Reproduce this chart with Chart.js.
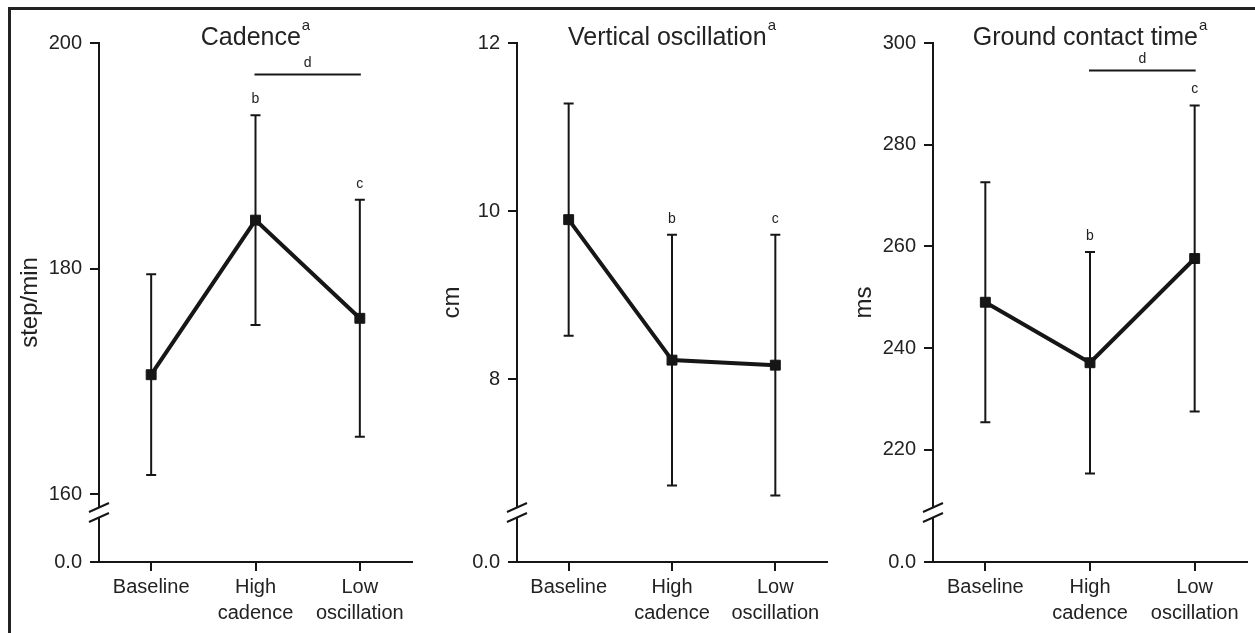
<!DOCTYPE html>
<html><head><meta charset="utf-8">
<script src="https://cdn.jsdelivr.net/npm/chart.js@4.4.1/dist/chart.umd.min.js"></script>
<style>
html,body{margin:0;padding:0;background:#fff;}
body{width:1255px;height:633px;position:relative;overflow:hidden;}
#frame{position:absolute;left:8px;top:7px;width:1260px;height:640px;border-top:3px solid #222;border-left:3px solid #222;}
.panel{position:absolute;top:0;height:633px;}
</style></head><body>
<div id="frame"></div>
<div class="panel" style="left:10px;width:410px"><canvas id="c1"></canvas></div>
<div class="panel" style="left:420px;width:415px"><canvas id="c2"></canvas></div>
<div class="panel" style="left:835px;width:420px"><canvas id="c3"></canvas></div>
<script>
// ---- data ----
const categories = [['Baseline'], ['High', 'cadence'], ['Low', 'oscillation']];

const cadenceMean = [170.6, 184.3, 175.6];
const cadenceSD   = [8.9, 9.3, 10.5];
const cadenceTicks = [160, 180, 200];
const cadenceAxisMin = 154.0; // position of the "0.0" label after the break

const voMean = [9.90, 8.23, 8.17];
const voSD   = [1.38, 1.49, 1.55];
const voTicks = [8, 10, 12];
const voAxisMin = 5.83;

const gctMean = [249.0, 237.1, 257.6];
const gctSD   = [23.6, 21.8, 30.1];
const gctTicks = [220, 240, 260, 280, 300];
const gctAxisMin = 197.9;

const titles = ['Cadence', 'Vertical oscillation', 'Ground contact time'];
const unitLabels = ['step/min', 'cm', 'ms'];
const letterIdx = { b: 1, c: 2 };
const cadenceDLine = 197.2;
const gctDLine = 294.6;

Chart.defaults.font.family = "'Liberation Sans', Arial, sans-serif";
Chart.defaults.color = '#222';

const INK = '#161616';

function extrasPlugin(mean, sd, dLine) {
  return {
    id: 'extras',
    beforeDatasetsDraw(chart) {
      const ctx = chart.ctx, xs = chart.scales.x, ys = chart.scales.y;
      ctx.save();
      ctx.strokeStyle = INK; ctx.lineWidth = 2;
      mean.forEach((m, i) => {
        const x = xs.getPixelForValue(i);
        const yt = ys.getPixelForValue(m + sd[i]);
        const yb = ys.getPixelForValue(m - sd[i]);
        ctx.beginPath();
        ctx.moveTo(x, yt); ctx.lineTo(x, yb);
        ctx.moveTo(x - 5, yt); ctx.lineTo(x + 5, yt);
        ctx.moveTo(x - 5, yb); ctx.lineTo(x + 5, yb);
        ctx.stroke();
      });
      ctx.restore();
    },
    afterDraw(chart, args, opts) {
      const ctx = chart.ctx, xs = chart.scales.x, ys = chart.scales.y;
      const ca = chart.chartArea;
      ctx.save();
      // axis break
      const x0 = ca.left, yb = ca.bottom - 54.5;
      ctx.fillStyle = '#fff';
      ctx.fillRect(x0 - 3, yb, 6, 10);
      ctx.strokeStyle = INK; ctx.lineWidth = 2;
      ctx.beginPath();
      ctx.moveTo(x0 - 10, yb + 4.5); ctx.lineTo(x0 + 10, yb - 4.5);
      ctx.moveTo(x0 - 10, yb + 14.5); ctx.lineTo(x0 + 10, yb + 5.5);
      ctx.stroke();
      // significance letters
      ctx.fillStyle = '#222';
      ctx.font = "14px 'Liberation Sans', Arial, sans-serif";
      ctx.textAlign = 'center'; ctx.textBaseline = 'middle';
      Object.keys(letterIdx).forEach(k => {
        const i = letterIdx[k];
        const x = xs.getPixelForValue(i);
        const yt = ys.getPixelForValue(mean[i] + sd[i]);
        ctx.fillText(k, x, yt - 16);
      });
      if (dLine !== null) {
        const y = ys.getPixelForValue(dLine);
        const xa = xs.getPixelForValue(1) - 1, xb = xs.getPixelForValue(2) + 1;
        ctx.beginPath(); ctx.moveTo(xa, y); ctx.lineTo(xb, y); ctx.stroke();
        ctx.fillText('d', (xa + xb) / 2, y - 11);
      }
      // title with superscript
      const t = opts.title;
      ctx.font = "25px 'Liberation Sans', Arial, sans-serif";
      const w1 = ctx.measureText(t).width;
      ctx.font = "15px 'Liberation Sans', Arial, sans-serif";
      const w2 = ctx.measureText('a').width;
      const cx = (ca.left + ca.right) / 2;
      const sx = cx - (w1 + 1 + w2) / 2;
      ctx.textAlign = 'left'; ctx.textBaseline = 'alphabetic';
      ctx.font = "25px 'Liberation Sans', Arial, sans-serif";
      ctx.fillText(t, sx, 45);
      ctx.font = "15px 'Liberation Sans', Arial, sans-serif";
      ctx.fillText('a', sx + w1 + 1, 30);
      ctx.restore();
    }
  };
}

function makeChart(id, idx, mean, sd, ticks, axisMin, dLine, yWidth, titlePad, padRight) {
  const max = ticks[ticks.length - 1];
  new Chart(document.getElementById(id), {
    type: 'line',
    data: {
      labels: categories,
      datasets: [{
        data: mean,
        borderColor: INK, borderWidth: 4,
        pointStyle: 'rect', pointRadius: 7, pointBorderWidth: 1,
        pointBackgroundColor: INK, pointBorderColor: INK,
        tension: 0, clip: false, fill: false
      }]
    },
    options: {
      responsive: true, maintainAspectRatio: false, animation: false,
      layout: { padding: { top: 43, right: padRight, bottom: 0, left: 0 } },
      plugins: { legend: { display: false }, tooltip: { enabled: false }, extras: { title: titles[idx] } },
      scales: {
        x: {
          type: 'category', offset: true,
          grid: { display: true, drawOnChartArea: false, drawTicks: true, tickLength: 9, offset: false, lineWidth: 2, color: INK, tickColor: INK },
          border: { display: true, color: INK, width: 2 },
          ticks: { font: { size: 20, lineHeight: 1.3 }, color: '#222', padding: 3, maxRotation: 0, autoSkip: false },
          afterFit(s) { s.height = 71; }
        },
        y: {
          type: 'linear', min: axisMin, max: max,
          afterBuildTicks(s) { s.ticks = [{ value: axisMin }].concat(ticks.map(v => ({ value: v }))); },
          grid: { display: true, drawOnChartArea: false, drawTicks: true, tickLength: 9, lineWidth: 2, color: INK, tickColor: INK },
          border: { display: true, color: INK, width: 2 },
          ticks: {
            font: { size: 20 }, color: '#222', padding: 8,
            callback(v) { return v === axisMin ? '0.0' : String(v); }
          },
          title: { display: true, text: unitLabels[idx], font: { size: 24 }, color: '#222', padding: { top: titlePad, bottom: 0 } },
          afterFit(s) { s.width = yWidth; }
        }
      }
    },
    plugins: [extrasPlugin(mean, sd, dLine)]
  });
}

makeChart('c1', 0, cadenceMean, cadenceSD, cadenceTicks, cadenceAxisMin, cadenceDLine, 89, 6, 7);
makeChart('c2', 1, voMean, voSD, voTicks, voAxisMin, null, 97, 18, 6);
makeChart('c3', 2, gctMean, gctSD, gctTicks, gctAxisMin, gctDLine, 98, 15, 8);
</script>
</body></html>
